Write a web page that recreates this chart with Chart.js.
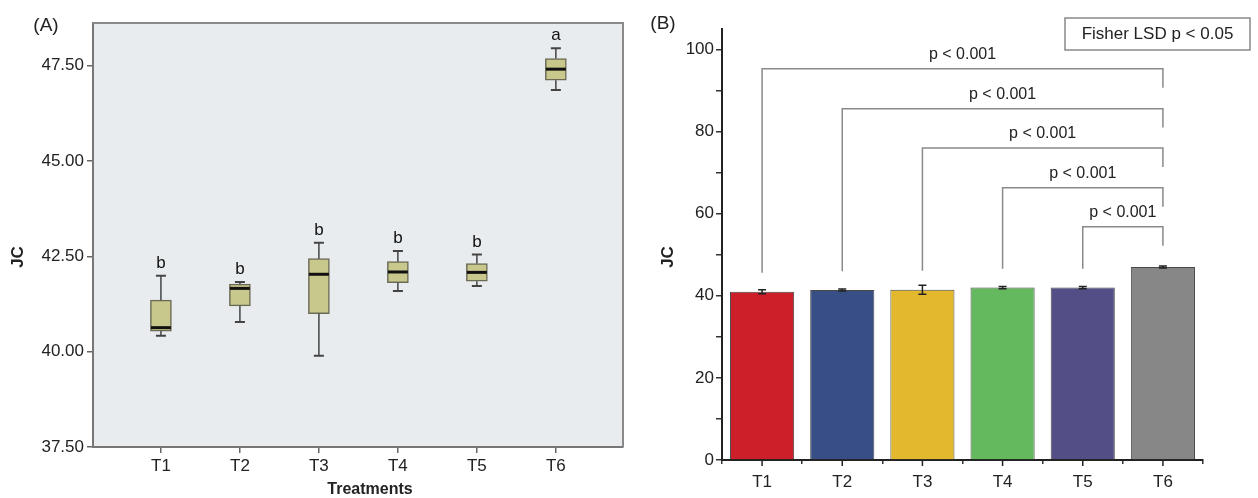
<!DOCTYPE html>
<html>
<head>
<meta charset="utf-8">
<script src="https://cdn.jsdelivr.net/npm/chart.js@4.4.0/dist/chart.umd.min.js"></script>
<style>
  body { margin: 0; background: #fff; }
  #wrapA { position: absolute; left: 0; top: 0; width: 630px; height: 498px; }
  #wrapB { position: absolute; left: 630px; top: 0; width: 628px; height: 498px; }
</style>
</head>
<body>
<div id="wrapA"><canvas id="boxChart"></canvas></div>
<div id="wrapB"><canvas id="barChart"></canvas></div>
<script>
// categories
const treatments = ['T1', 'T2', 'T3', 'T4', 'T5', 'T6'];

// panel A box plot
const whiskerLow  = [40.42, 40.78, 39.89, 41.59, 41.72, 46.86];
const quart1      = [40.54, 41.20, 41.00, 41.81, 41.85, 47.12];
const medians     = [40.63, 41.66, 42.03, 42.09, 42.08, 47.41];
const quart3      = [41.35, 41.77, 42.44, 42.36, 42.31, 47.69];
const whiskerHigh = [41.99, 41.83, 42.86, 42.64, 42.55, 47.96];
const groupLetters = ['b', 'b', 'b', 'b', 'b', 'a'];
const boxTicks = [37.5, 40, 42.5, 45, 47.5];

// panel B bars
const means  = [41.0, 41.4, 41.5, 42.0, 42.0, 47.0];
const errors = [0.5, 0.25, 1.1, 0.25, 0.25, 0.25];
const barColors = ['#cc1f2a', '#384f86', '#e4b82c', '#64b85e', '#534f86', '#878787'];
const barTicks = [0, 10, 20, 30, 40, 50, 60, 70, 80, 90, 100];
// comparisons with T6 : from index, bracket level
const compareFrom = [0, 1, 2, 3, 4];
const bracketLevel = [95.3, 85.6, 76.0, 66.3, 56.8];
const pLabel = 'p < 0.001';

const FONT = 'Liberation Sans, Arial, sans-serif';
Chart.defaults.font.family = FONT;
Chart.defaults.color = '#222';

const boxExtras = {
  id: 'boxExtras',
  beforeDraw(chart) {
    const a = chart.chartArea, c = chart.ctx;
    c.save();
    c.fillStyle = '#e9ecef';
    c.fillRect(a.left, a.top, a.right - a.left, a.bottom - a.top);
    c.restore();
  },
  afterDatasetsDraw(chart) {
    const c = chart.ctx, x = chart.scales.x, y = chart.scales.y, a = chart.chartArea;
    c.save();
    treatments.forEach((t, i) => {
      const px = x.getPixelForValue(i + 1);
      c.strokeStyle = '#444';
      c.lineWidth = 1.5;
      c.beginPath();
      c.moveTo(px, y.getPixelForValue(quart3[i]));
      c.lineTo(px, y.getPixelForValue(whiskerHigh[i]));
      c.moveTo(px, y.getPixelForValue(quart1[i]));
      c.lineTo(px, y.getPixelForValue(whiskerLow[i]));
      c.stroke();
      c.lineWidth = 2;
      c.beginPath();
      [whiskerHigh[i], whiskerLow[i]].forEach(v => {
        const py = y.getPixelForValue(v);
        c.moveTo(px - 5, py);
        c.lineTo(px + 5, py);
      });
      c.stroke();
      c.strokeStyle = '#111';
      c.lineWidth = 3;
      c.beginPath();
      const pm = y.getPixelForValue(medians[i]);
      c.moveTo(px - 10, pm);
      c.lineTo(px + 10, pm);
      c.stroke();
      c.fillStyle = '#111';
      c.font = '17px ' + FONT;
      c.textAlign = 'center';
      c.textBaseline = 'bottom';
      c.fillText(groupLetters[i], px, y.getPixelForValue(whiskerHigh[i]) - 4);
    });
    // frame top/right
    c.strokeStyle = '#8a8a8a';
    c.lineWidth = 2;
    c.beginPath();
    c.moveTo(a.left, a.top);
    c.lineTo(a.right, a.top);
    c.lineTo(a.right, a.bottom);
    c.stroke();
    // texts
    c.fillStyle = '#222';
    c.font = '19px ' + FONT;
    c.textAlign = 'center';
    c.textBaseline = 'middle';
    c.fillText('(A)', 46, 26);
    c.font = 'bold 16px ' + FONT;
    c.fillText('Treatments', 370, 490);
    c.save();
    c.translate(18, 257);
    c.rotate(-Math.PI / 2);
    c.font = 'bold 17px ' + FONT;
    c.fillText('JC', 0, 0);
    c.restore();
    c.restore();
  }
};

new Chart(document.getElementById('boxChart'), {
  type: 'bar',
  data: {
    datasets: [{
      data: treatments.map((t, i) => ({ x: i + 1, y: [quart1[i], quart3[i]] })),
      backgroundColor: '#c9c88c',
      borderColor: '#6a6a55',
      borderWidth: 1.5,
      borderSkipped: false,
      barThickness: 21
    }]
  },
  options: {
    responsive: true,
    maintainAspectRatio: false,
    animation: false,
    layout: { padding: { top: 23, right: 7, left: 0, bottom: 0 } },
    plugins: { legend: { display: false }, tooltip: { enabled: false } },
    scales: {
      x: {
        type: 'linear',
        offset: false,
        min: 0.14,
        max: 6.85,
        afterBuildTicks: s => { s.ticks = treatments.map((t, i) => ({ value: i + 1 })); },
        afterFit: s => { s.height = 51; },
        ticks: { callback: v => treatments[v - 1], font: { size: 17 }, color: '#222', padding: 3, maxRotation: 0 },
        grid: { offset: false, drawOnChartArea: false, tickLength: 6, color: '#666', lineWidth: 1.5 },
        border: { color: '#777', width: 2 }
      },
      y: {
        min: 37.5,
        max: 48.62,
        afterBuildTicks: s => { s.ticks = boxTicks.map(v => ({ value: v })); },
        afterFit: s => { s.width = 93; },
        ticks: { callback: v => v.toFixed(2), font: { size: 17 }, color: '#222', padding: 3 },
        grid: { drawOnChartArea: false, tickLength: 6, color: '#666', lineWidth: 1.5 },
        border: { color: '#777', width: 2 }
      }
    }
  },
  plugins: [boxExtras]
});

const barExtras = {
  id: 'barExtras',
  afterDatasetsDraw(chart) {
    const c = chart.ctx, x = chart.scales.x, y = chart.scales.y;
    c.save();
    // error bars
    c.strokeStyle = '#222';
    c.lineWidth = 1.5;
    means.forEach((m, i) => {
      const px = x.getPixelForValue(i);
      const hi = y.getPixelForValue(m + errors[i]), lo = y.getPixelForValue(m - errors[i]);
      c.beginPath();
      c.moveTo(px, hi); c.lineTo(px, lo);
      c.moveTo(px - 4, hi); c.lineTo(px + 4, hi);
      c.moveTo(px - 4, lo); c.lineTo(px + 4, lo);
      c.stroke();
    });
    // center ticks on x axis
    c.strokeStyle = '#222';
    c.lineWidth = 1.5;
    treatments.forEach((t, i) => {
      const px = x.getPixelForValue(i);
      c.beginPath();
      c.moveTo(px, y.bottom);
      c.lineTo(px, y.bottom + 6);
      c.stroke();
    });
    // significance brackets
    const last = treatments.length - 1;
    const xr = x.getPixelForValue(last);
    compareFrom.forEach((from, k) => {
      const xl = x.getPixelForValue(from);
      const yb = y.getPixelForValue(bracketLevel[k]);
      c.strokeStyle = '#8a8a8a';
      c.lineWidth = 1.5;
      c.beginPath();
      c.moveTo(xl, y.getPixelForValue(means[from] + 4.6));
      c.lineTo(xl, yb);
      c.lineTo(xr, yb);
      c.lineTo(xr, y.getPixelForValue(bracketLevel[k] - 4.6));
      c.stroke();
      c.fillStyle = '#222';
      c.font = '16px ' + FONT;
      c.textAlign = 'center';
      c.textBaseline = 'middle';
      c.fillText(pLabel, (xl + xr) / 2, yb - 14);
    });
    // legend box
    c.fillStyle = '#fff';
    c.strokeStyle = '#888';
    c.lineWidth = 1.5;
    c.fillRect(435, 18, 185, 32);
    c.strokeRect(435, 18, 185, 32);
    c.fillStyle = '#222';
    c.font = '17px ' + FONT;
    c.textAlign = 'center';
    c.textBaseline = 'middle';
    c.fillText('Fisher LSD p < 0.05', 527.5, 34);
    c.font = '19px ' + FONT;
    c.fillText('(B)', 33, 24);
    c.save();
    c.translate(38, 257);
    c.rotate(-Math.PI / 2);
    c.font = 'bold 17px ' + FONT;
    c.fillText('JC', 0, 0);
    c.restore();
    c.restore();
  }
};

new Chart(document.getElementById('barChart'), {
  type: 'bar',
  data: {
    labels: treatments,
    datasets: [{
      data: means,
      backgroundColor: barColors,
      borderColor: '#4a4a4a',
      borderWidth: 1,
      barPercentage: 0.8,
      categoryPercentage: 1
    }]
  },
  options: {
    responsive: true,
    maintainAspectRatio: false,
    animation: false,
    layout: { padding: { top: 29, right: 55, left: 0, bottom: 0 } },
    plugins: { legend: { display: false }, tooltip: { enabled: false } },
    scales: {
      x: {
        afterFit: s => { s.height = 38; },
        ticks: { font: { size: 17 }, color: '#222', padding: 8 },
        grid: { drawOnChartArea: false, tickLength: 4, color: '#333', lineWidth: 1.5 },
        border: { color: '#222', width: 2 }
      },
      y: {
        min: 0,
        max: 105,
        afterBuildTicks: s => { s.ticks = barTicks.map(v => ({ value: v })); },
        afterFit: s => { s.width = 92; },
        ticks: { callback: v => (v % 20 === 0 ? String(v) : ''), font: { size: 17 }, color: '#222', padding: 2 },
        grid: { drawOnChartArea: false, tickLength: 6, color: '#333', lineWidth: 1.5 },
        border: { color: '#222', width: 2 }
      }
    }
  },
  plugins: [barExtras]
});
</script>
</body>
</html>
